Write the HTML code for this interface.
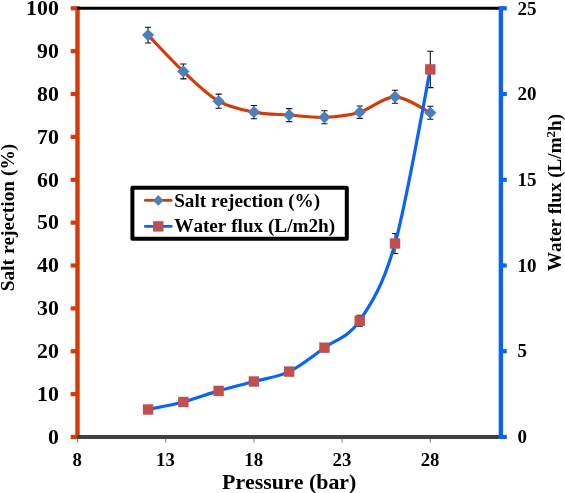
<!DOCTYPE html><html><head><meta charset="utf-8"><title>chart</title><style>html,body{margin:0;padding:0;background:#fff}svg{display:block;will-change:transform}text{font-family:"Liberation Serif",serif;font-weight:bold;fill:#000;font-kerning:none;filter:grayscale(1)}</style></head><body>
<svg width="565" height="493" viewBox="0 0 565 493">
<rect width="565" height="493" fill="#fff"/>
<line x1="77.50" y1="438.5" x2="77.50" y2="442.5" stroke="#555" stroke-width="0.8"/>
<text x="77.30" y="465.8" font-size="18.8" text-anchor="middle">8</text>
<line x1="165.70" y1="438.5" x2="165.70" y2="442.5" stroke="#555" stroke-width="0.8"/>
<text x="165.50" y="465.8" font-size="18.8" text-anchor="middle">13</text>
<line x1="253.90" y1="438.5" x2="253.90" y2="442.5" stroke="#555" stroke-width="0.8"/>
<text x="253.70" y="465.8" font-size="18.8" text-anchor="middle">18</text>
<line x1="342.10" y1="438.5" x2="342.10" y2="442.5" stroke="#555" stroke-width="0.8"/>
<text x="341.90" y="465.8" font-size="18.8" text-anchor="middle">23</text>
<line x1="430.30" y1="438.5" x2="430.30" y2="442.5" stroke="#555" stroke-width="0.8"/>
<text x="430.10" y="465.8" font-size="18.8" text-anchor="middle">28</text>
<path d="M359.74 315.30 V326.10 M356.64 315.30 H362.84 M356.64 326.10 H362.84" stroke="#111" stroke-width="1.1" fill="none"/>
<path d="M395.02 233.50 V253.50 M391.92 233.50 H398.12 M391.92 253.50 H398.12" stroke="#111" stroke-width="1.1" fill="none"/>
<path d="M430.30 51.20 V87.60 M427.20 51.20 H433.40 M427.20 87.60 H433.40" stroke="#111" stroke-width="1.1" fill="none"/>
<path d="M148.06 27.20 V43.00 M144.96 27.20 H151.16 M144.96 43.00 H151.16" stroke="#111" stroke-width="1.1" fill="none"/>
<path d="M183.34 64.05 V78.85 M180.24 64.05 H186.44 M180.24 78.85 H186.44" stroke="#111" stroke-width="1.1" fill="none"/>
<path d="M218.62 94.10 V108.30 M215.52 94.10 H221.72 M215.52 108.30 H221.72" stroke="#111" stroke-width="1.1" fill="none"/>
<path d="M253.90 105.50 V118.70 M250.80 105.50 H257.00 M250.80 118.70 H257.00" stroke="#111" stroke-width="1.1" fill="none"/>
<path d="M289.18 108.60 V121.60 M286.08 108.60 H292.28 M286.08 121.60 H292.28" stroke="#111" stroke-width="1.1" fill="none"/>
<path d="M324.46 110.80 V123.80 M321.36 110.80 H327.56 M321.36 123.80 H327.56" stroke="#111" stroke-width="1.1" fill="none"/>
<path d="M359.74 106.00 V118.40 M356.64 106.00 H362.84 M356.64 118.40 H362.84" stroke="#111" stroke-width="1.1" fill="none"/>
<path d="M395.02 90.30 V103.30 M391.92 90.30 H398.12 M391.92 103.30 H398.12" stroke="#111" stroke-width="1.1" fill="none"/>
<path d="M430.30 106.20 V119.20 M427.20 106.20 H433.40 M427.20 119.20 H433.40" stroke="#111" stroke-width="1.1" fill="none"/>
<path d="M148.06 35.10 C153.94 41.16 171.58 60.43 183.34 71.45 C195.10 82.47 206.86 94.43 218.62 101.20 C230.38 107.97 242.14 109.78 253.90 112.10 C265.66 114.42 277.42 114.23 289.18 115.10 C300.94 115.97 312.70 117.78 324.46 117.30 C336.22 116.82 347.98 115.62 359.74 112.20 C371.50 108.78 383.26 96.72 395.02 96.80 C406.78 96.88 424.42 110.05 430.30 112.70" fill="none" stroke="#D63A06" stroke-width="3.2" stroke-linecap="round" stroke-linejoin="round"/>
<path d="M148.06 29.00 L154.16 35.10 L148.06 41.20 L141.96 35.10 Z" fill="#4C80BD"/>
<path d="M183.34 65.35 L189.44 71.45 L183.34 77.55 L177.24 71.45 Z" fill="#4C80BD"/>
<path d="M218.62 95.10 L224.72 101.20 L218.62 107.30 L212.52 101.20 Z" fill="#4C80BD"/>
<path d="M253.90 106.00 L260.00 112.10 L253.90 118.20 L247.80 112.10 Z" fill="#4C80BD"/>
<path d="M289.18 109.00 L295.28 115.10 L289.18 121.20 L283.08 115.10 Z" fill="#4C80BD"/>
<path d="M324.46 111.20 L330.56 117.30 L324.46 123.40 L318.36 117.30 Z" fill="#4C80BD"/>
<path d="M359.74 106.10 L365.84 112.20 L359.74 118.30 L353.64 112.20 Z" fill="#4C80BD"/>
<path d="M395.02 90.70 L401.12 96.80 L395.02 102.90 L388.92 96.80 Z" fill="#4C80BD"/>
<path d="M430.30 106.60 L436.40 112.70 L430.30 118.80 L424.20 112.70 Z" fill="#4C80BD"/>
<path d="M148.06 409.50 C153.94 408.25 171.58 405.10 183.34 402.00 C195.10 398.90 206.86 394.32 218.62 390.90 C230.38 387.48 242.14 384.72 253.90 381.50 C265.66 378.28 277.42 377.23 289.18 371.60 C300.94 365.97 312.70 356.18 324.46 347.70 C336.22 339.22 347.98 338.07 359.74 320.70 C371.50 303.33 383.26 285.38 395.02 243.50 C406.78 201.62 424.42 98.42 430.30 69.40" fill="none" stroke="#0B63F6" stroke-width="3.2" stroke-linecap="round" stroke-linejoin="round"/>
<rect x="142.86" y="404.30" width="10.4" height="10.4" fill="#C0504D"/>
<rect x="178.14" y="396.80" width="10.4" height="10.4" fill="#C0504D"/>
<rect x="213.42" y="385.70" width="10.4" height="10.4" fill="#C0504D"/>
<rect x="248.70" y="376.30" width="10.4" height="10.4" fill="#C0504D"/>
<rect x="283.98" y="366.40" width="10.4" height="10.4" fill="#C0504D"/>
<rect x="319.26" y="342.50" width="10.4" height="10.4" fill="#C0504D"/>
<rect x="354.54" y="315.50" width="10.4" height="10.4" fill="#C0504D"/>
<rect x="389.82" y="238.30" width="10.4" height="10.4" fill="#C0504D"/>
<rect x="425.10" y="64.20" width="10.4" height="10.4" fill="#C0504D"/>
<line x1="77.5" y1="6.2" x2="77.5" y2="439.1" stroke="#D63A06" stroke-width="4.4"/>
<line x1="70.7" y1="437.00" x2="77.6" y2="437.00" stroke="#D63A06" stroke-width="4.2"/>
<text x="58.8" y="443.80" font-size="21.8" text-anchor="end">0</text>
<line x1="70.7" y1="394.13" x2="77.6" y2="394.13" stroke="#D63A06" stroke-width="4.2"/>
<text x="58.8" y="400.93" font-size="21.8" text-anchor="end">10</text>
<line x1="70.7" y1="351.26" x2="77.6" y2="351.26" stroke="#D63A06" stroke-width="4.2"/>
<text x="58.8" y="358.06" font-size="21.8" text-anchor="end">20</text>
<line x1="70.7" y1="308.39" x2="77.6" y2="308.39" stroke="#D63A06" stroke-width="4.2"/>
<text x="58.8" y="315.19" font-size="21.8" text-anchor="end">30</text>
<line x1="70.7" y1="265.52" x2="77.6" y2="265.52" stroke="#D63A06" stroke-width="4.2"/>
<text x="58.8" y="272.32" font-size="21.8" text-anchor="end">40</text>
<line x1="70.7" y1="222.65" x2="77.6" y2="222.65" stroke="#D63A06" stroke-width="4.2"/>
<text x="58.8" y="229.45" font-size="21.8" text-anchor="end">50</text>
<line x1="70.7" y1="179.78" x2="77.6" y2="179.78" stroke="#D63A06" stroke-width="4.2"/>
<text x="58.8" y="186.58" font-size="21.8" text-anchor="end">60</text>
<line x1="70.7" y1="136.91" x2="77.6" y2="136.91" stroke="#D63A06" stroke-width="4.2"/>
<text x="58.8" y="143.71" font-size="21.8" text-anchor="end">70</text>
<line x1="70.7" y1="94.04" x2="77.6" y2="94.04" stroke="#D63A06" stroke-width="4.2"/>
<text x="58.8" y="100.84" font-size="21.8" text-anchor="end">80</text>
<line x1="70.7" y1="51.17" x2="77.6" y2="51.17" stroke="#D63A06" stroke-width="4.2"/>
<text x="58.8" y="57.97" font-size="21.8" text-anchor="end">90</text>
<line x1="70.7" y1="8.30" x2="77.6" y2="8.30" stroke="#D63A06" stroke-width="4.2"/>
<text x="58.8" y="15.10" font-size="21.8" text-anchor="end">100</text>
<line x1="77.3" y1="8.3" x2="501" y2="8.3" stroke="#000" stroke-width="3"/>
<line x1="77.3" y1="437" x2="501" y2="437" stroke="#404040" stroke-width="3.8"/>
<line x1="500.9" y1="6.2" x2="500.9" y2="439.1" stroke="#0B63F6" stroke-width="4.4"/>
<line x1="500.9" y1="437.00" x2="506.8" y2="437.00" stroke="#0B63F6" stroke-width="4.2"/>
<text x="517.6" y="443.20" font-size="19" text-anchor="start">0</text>
<line x1="500.9" y1="351.26" x2="506.8" y2="351.26" stroke="#0B63F6" stroke-width="4.2"/>
<text x="517.6" y="357.46" font-size="19" text-anchor="start">5</text>
<line x1="500.9" y1="265.52" x2="506.8" y2="265.52" stroke="#0B63F6" stroke-width="4.2"/>
<text x="517.6" y="271.72" font-size="19" text-anchor="start">10</text>
<line x1="500.9" y1="179.78" x2="506.8" y2="179.78" stroke="#0B63F6" stroke-width="4.2"/>
<text x="517.6" y="185.98" font-size="19" text-anchor="start">15</text>
<line x1="500.9" y1="94.04" x2="506.8" y2="94.04" stroke="#0B63F6" stroke-width="4.2"/>
<text x="517.6" y="100.24" font-size="19" text-anchor="start">20</text>
<line x1="500.9" y1="8.30" x2="506.8" y2="8.30" stroke="#0B63F6" stroke-width="4.2"/>
<text x="517.6" y="14.50" font-size="19" text-anchor="start">25</text>
<text x="289.2" y="488.7" font-size="21.9" text-anchor="middle">Pressure (bar)</text>
<text transform="translate(13.5 217.5) rotate(-90)" font-size="19.4" text-anchor="middle">Salt rejection (%)</text>
<text transform="translate(561.1 192.5) rotate(-90)" font-size="19.1" text-anchor="middle">Water flux (L/m<tspan font-size="13" dy="-6.5">2</tspan><tspan dy="6.5">h)</tspan></text>
<rect x="132.4" y="187.8" width="214.4" height="50.9" fill="#fff" stroke="#000" stroke-width="4" stroke-linejoin="round"/>
<line x1="145.4" y1="200.4" x2="171.2" y2="200.4" stroke="#D63A06" stroke-width="2.9" stroke-linecap="round"/>
<path d="M158.3 195 L163.6 200.4 L158.3 205.8 L153 200.4 Z" fill="#4C80BD"/>
<text x="174.2" y="206.8" font-size="19.2">Salt rejection (%)</text>
<line x1="145.4" y1="226.4" x2="171.2" y2="226.4" stroke="#0B63F6" stroke-width="2.9" stroke-linecap="round"/>
<rect x="153.1" y="221.2" width="10.4" height="10.4" fill="#C0504D"/>
<text x="174.2" y="232.4" font-size="19.2">Water flux (L/m2h)</text>
</svg></body></html>
